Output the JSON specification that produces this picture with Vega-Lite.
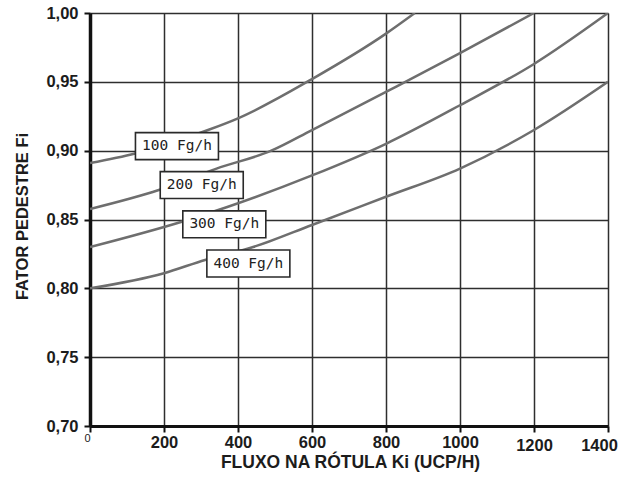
{
  "$schema": "https://vega.github.io/schema/vega-lite/v6.json",
  "autosize": {"type": "none"},
  "padding": {"left": 90, "top": 13, "right": 12, "bottom": 53},
  "width": 518,
  "height": 413,
  "background": "white",
  "config": {
    "view": {"stroke": null},
    "font": "Liberation Sans"
  },
  "datasets": {
    "curves": [
      {"fluxo": 0, "fator": 0.891, "serie": "100 Fg/h"},
      {"fluxo": 122, "fator": 0.898, "serie": "100 Fg/h"},
      {"fluxo": 319, "fator": 0.915, "serie": "100 Fg/h"},
      {"fluxo": 400, "fator": 0.9235, "serie": "100 Fg/h"},
      {"fluxo": 600, "fator": 0.952, "serie": "100 Fg/h"},
      {"fluxo": 800, "fator": 0.985, "serie": "100 Fg/h"},
      {"fluxo": 878, "fator": 1.0, "serie": "100 Fg/h"},

      {"fluxo": 0, "fator": 0.8576, "serie": "200 Fg/h"},
      {"fluxo": 186, "fator": 0.8714, "serie": "200 Fg/h"},
      {"fluxo": 342, "fator": 0.887, "serie": "200 Fg/h"},
      {"fluxo": 490, "fator": 0.9, "serie": "200 Fg/h"},
      {"fluxo": 600, "fator": 0.915, "serie": "200 Fg/h"},
      {"fluxo": 800, "fator": 0.9427, "serie": "200 Fg/h"},
      {"fluxo": 1000, "fator": 0.9708, "serie": "200 Fg/h"},
      {"fluxo": 1200, "fator": 1.0, "serie": "200 Fg/h"},

      {"fluxo": 0, "fator": 0.83, "serie": "300 Fg/h"},
      {"fluxo": 248, "fator": 0.8484, "serie": "300 Fg/h"},
      {"fluxo": 369, "fator": 0.8589, "serie": "300 Fg/h"},
      {"fluxo": 600, "fator": 0.882, "serie": "300 Fg/h"},
      {"fluxo": 800, "fator": 0.905, "serie": "300 Fg/h"},
      {"fluxo": 1000, "fator": 0.933, "serie": "300 Fg/h"},
      {"fluxo": 1200, "fator": 0.963, "serie": "300 Fg/h"},
      {"fluxo": 1400, "fator": 1.0, "serie": "300 Fg/h"},

      {"fluxo": 0, "fator": 0.8, "serie": "400 Fg/h"},
      {"fluxo": 200, "fator": 0.811, "serie": "400 Fg/h"},
      {"fluxo": 311, "fator": 0.8206, "serie": "400 Fg/h"},
      {"fluxo": 441, "fator": 0.83, "serie": "400 Fg/h"},
      {"fluxo": 600, "fator": 0.846, "serie": "400 Fg/h"},
      {"fluxo": 800, "fator": 0.8665, "serie": "400 Fg/h"},
      {"fluxo": 1000, "fator": 0.887, "serie": "400 Fg/h"},
      {"fluxo": 1200, "fator": 0.915, "serie": "400 Fg/h"},
      {"fluxo": 1400, "fator": 0.95, "serie": "400 Fg/h"}
    ],
    "rotulos": [
      {"fluxo": 235, "fator": 0.9033, "serie": "100 Fg/h"},
      {"fluxo": 302, "fator": 0.875, "serie": "200 Fg/h"},
      {"fluxo": 363, "fator": 0.8465, "serie": "300 Fg/h"},
      {"fluxo": 428, "fator": 0.818, "serie": "400 Fg/h"}
    ]
  },
  "layer": [
    {
      "data": {"name": "curves"},
      "mark": {"type": "line", "interpolate": "monotone", "color": "#6e6e6e", "strokeWidth": 2.5, "clip": true},
      "encoding": {
        "x": {
          "field": "fluxo",
          "type": "quantitative",
          "scale": {"domain": [0, 1400], "nice": false, "zero": false},
          "axis": {
            "values": [0, 200, 400, 600, 800, 1000, 1200, 1400],
            "format": "d",
            "title": "FLUXO NA RÓTULA Ki (UCP/H)",
            "titleFontSize": 17.5,
            "titleFontWeight": "bold",
            "titleColor": "#1c1c1c",
            "titleX": 260,
            "titleY": 36,
            "titleAlign": "center",
            "titleBaseline": "middle",
            "grid": true,
            "gridColor": "#2e2e2e",
            "gridWidth": 1.5,
            "gridOpacity": 1,
            "domainColor": "#111111",
            "domainWidth": 3,
            "tickColor": "#111111",
            "tickWidth": 2,
            "tickSize": 6,
            "labelFontSize": {"condition": {"test": "datum.value == 0", "value": 11}, "value": 16.5},
            "labelFontWeight": {"condition": {"test": "datum.value == 0", "value": "normal"}, "value": "bold"},
            "labelOffset": {"condition": [{"test": "datum.value == 0", "value": -3}, {"test": "datum.value == 1400", "value": -9}], "value": 0},
            "labelPadding": {"condition": [{"test": "datum.value == 0", "value": 0}, {"test": "datum.value >= 1200", "value": 5}], "value": 2},
            "labelColor": "#1c1c1c",
            "labelFlush": false,
            "labelOverlap": false
          }
        },
        "y": {
          "field": "fator",
          "type": "quantitative",
          "scale": {"domain": [0.7, 1.0], "nice": false, "zero": false},
          "axis": {
            "values": [0.7, 0.75, 0.8, 0.85, 0.9, 0.95, 1.0],
            "labelExpr": "replace(format(datum.value, '.2f'), '.', ',')",
            "title": "FATOR PEDESTRE Fi",
            "titleFontSize": 16.5,
            "titleFontWeight": "bold",
            "titleColor": "#1c1c1c",
            "titleX": -68,
            "titleY": 203,
            "titleAngle": 270,
            "titleAlign": "center",
            "titleBaseline": "middle",
            "grid": true,
            "gridColor": "#2e2e2e",
            "gridWidth": 1.5,
            "gridOpacity": 1,
            "domainColor": "#111111",
            "domainWidth": 3.5,
            "tickColor": "#111111",
            "tickWidth": 2,
            "tickSize": 6,
            "labelFontSize": 16.5,
            "labelFontWeight": "bold",
            "labelPadding": 6,
            "labelColor": "#1c1c1c",
            "labelFlush": false,
            "labelOverlap": false
          }
        },
        "detail": {"field": "serie"}
      }
    },
    {
      "data": {"name": "rotulos"},
      "mark": {
        "type": "point",
        "shape": "M-1,-0.325H1V0.325H-1Z",
        "size": 6889,
        "filled": true,
        "fill": "white",
        "stroke": "#2a2a2a",
        "strokeWidth": 1.6,
        "opacity": 1
      },
      "encoding": {
        "x": {"field": "fluxo", "type": "quantitative"},
        "y": {"field": "fator", "type": "quantitative"}
      }
    },
    {
      "data": {"name": "rotulos"},
      "mark": {
        "type": "text",
        "font": "DejaVu Sans Mono",
        "fontSize": 14.5,
        "color": "#222222",
        "align": "center",
        "baseline": "middle"
      },
      "encoding": {
        "x": {"field": "fluxo", "type": "quantitative"},
        "y": {"field": "fator", "type": "quantitative"},
        "text": {"field": "serie"}
      }
    }
  ]
}
